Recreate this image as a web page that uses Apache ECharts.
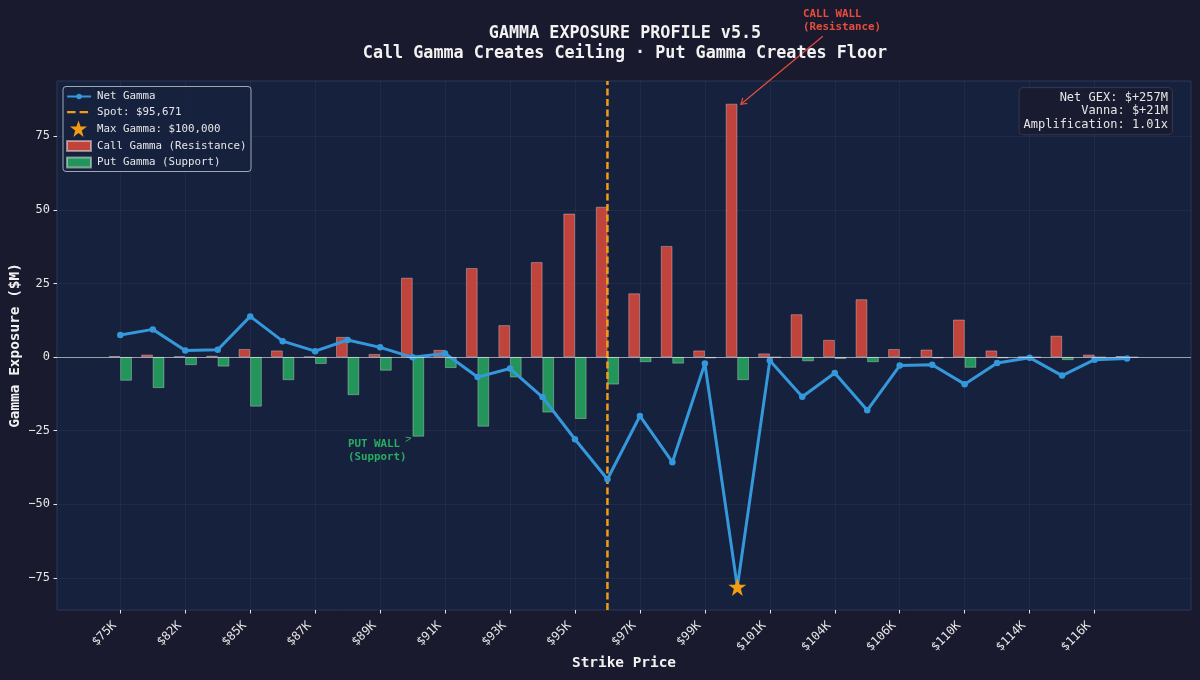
<!DOCTYPE html>
<html>
<head>
<meta charset="utf-8">
<title>Gamma Exposure Profile</title>
<script src="https://cdn.jsdelivr.net/npm/echarts@6/dist/echarts.min.js"></script>
<style>
  html, body { margin: 0; padding: 0; background: #1a1a2e; }
  #main { width: 1200px; height: 680px; }
</style>
</head>
<body>
<div id="main"></div>
<script>
// values, one entry per strike (index 0..31)
const callGamma = [0.3, 0.8, 0.2, 0.4, 2.7, 2.2, 0.1, 6.8, 1.0, 26.9, 2.4, 30.2, 10.8, 32.2, 48.7, 51.0,
                   21.6, 37.7, 2.2, 86.0, 1.2, 14.5, 5.8, 19.6, 2.7, 2.5, 12.7, 2.2, 0.1, 7.2, 0.8, 0.3];
const putGamma = [-8.0, -10.5, -2.7, -3.2, -16.8, -7.8, -2.3, -12.9, -4.6, -27.0, -3.7, -23.6, -6.9, -18.8, -21.0, -9.3,
                  -1.7, -2.2, -0.4, -7.8, -0.1, -1.4, -0.6, -1.7, -0.4, -0.4, -3.6, -0.4, -0.1, -1.0, -0.1, -0.1];
const netGamma = [7.5, 9.4, 2.2, 2.5, 13.8, 5.4, 2.0, 5.8, 3.3, -0.1, 1.2, -6.8, -3.9, -13.6, -27.9, -41.5,
                  -20.0, -35.7, -2.2, -78.1, -1.2, -13.5, -5.4, -18.1, -2.9, -2.6, -9.2, -2.0, -0.2, -6.3, -0.9, -0.5];
const strikeTicks = [0, 2, 4, 6, 8, 10, 12, 14, 16, 18, 20, 22, 24, 26, 28, 30];
const strikeLabels = ['$75K', '$82K', '$85K', '$87K', '$89K', '$91K', '$93K', '$95K',
                      '$97K', '$99K', '$101K', '$104K', '$106K', '$110K', '$114K', '$116K'];
const gammaTicks = [-75, -50, -25, 0, 25, 50, 75];
const spotIndex = 15;
const maxGammaIndex = 19;
const putWallIndex = 9;

const xMin = -1.95, xMax = 32.97;
const yMin = -85.9, yMax = 93.75;

const mono = '"DejaVu Sans Mono", monospace';
const textColor = '#e6e6e6';
const RED = '#e74c3c', GREEN = '#27ae60', BLUE = '#3498db', ORANGE = '#f39c12';
const STAR = 'path://M50 0L61.8 35.1L98.9 35.1L69 57L79.4 95L50 72L20.6 95L31 57L1.1 35.1L38.2 35.1Z';

const withIndex = arr => arr.map((v, i) => [i, v]);
const legendBase = {
    left: 66,
    orient: 'vertical',
    padding: 0,
    itemWidth: 24,
    itemHeight: 10,
    itemGap: 4.4,
    selectedMode: false,
    textStyle: { color: textColor, fontFamily: mono, fontSize: 10.8, padding: [0, 0, 0, 1] }
};

const option = {
    animation: false,
    backgroundColor: '#1a1a2e',
    textStyle: { fontFamily: mono },
    title: {
        text: 'GAMMA EXPOSURE PROFILE v5.5\nCall Gamma Creates Ceiling · Put Gamma Creates Floor',
        left: 620,
        top: 19,
        textAlign: 'center',
        textStyle: { color: '#f2f2f2', fontFamily: mono, fontWeight: 'bold', fontSize: 16.75, lineHeight: 20 }
    },
    grid: {
        left: 57, right: 9, top: 81, bottom: 70,
        outerBoundsMode: 'none',
        show: true,
        backgroundColor: '#16213e',
        borderColor: '#2c3756',
        borderWidth: 1
    },
    legend: [
        Object.assign({}, legendBase, {
            top: 91, itemHeight: 7, itemGap: 4.6,
            data: [
                'Net Gamma',
                { name: 'Spot: $95,671', itemStyle: { color: 'transparent' }, lineStyle: { type: [8.5, 4], width: 2.2 } }
            ]
        }),
        Object.assign({}, legendBase, {
            left: 70, itemWidth: 17, top: 120.5, itemHeight: 17,
            textStyle: { color: textColor, fontFamily: mono, fontSize: 10.8, padding: [0, 0, 0, 5] },
            data: [{ name: 'Max Gamma: $100,000', icon: STAR }]
        }),
        Object.assign({}, legendBase, {
            top: 140,
            data: [
                { name: 'Call Gamma (Resistance)', icon: 'rect' },
                { name: 'Put Gamma (Support)', icon: 'rect' }
            ]
        })
    ],
    xAxis: {
        type: 'value',
        min: xMin,
        max: xMax,
        name: 'Strike Price',
        nameLocation: 'middle',
        nameGap: 46,
        nameMoveOverlap: false,
        nameTextStyle: { color: '#f2f2f2', fontFamily: mono, fontWeight: 'bold', fontSize: 14.4 },
        axisLine: { show: false, onZero: false },
        axisTick: { show: true, length: 3.5, customValues: strikeTicks, lineStyle: { color: '#e6e6e6', width: 1 } },
        axisLabel: {
            customValues: strikeTicks,
            rotate: 45,
            margin: 8,
            padding: [0, 8, 0, 0],
            color: textColor,
            fontFamily: mono,
            fontSize: 12,
            formatter: v => strikeLabels[strikeTicks.indexOf(v)] || ''
        },
        splitLine: { show: true, lineStyle: { color: 'rgba(255,255,255,0.045)', width: 1 } }
    },
    yAxis: {
        type: 'value',
        min: yMin,
        max: yMax,
        name: 'Gamma Exposure ($M)',
        nameLocation: 'middle',
        nameGap: 35,
        nameMoveOverlap: false,
        nameTextStyle: { color: '#f2f2f2', fontFamily: mono, fontWeight: 'bold', fontSize: 14.4 },
        axisLine: { show: false, onZero: false },
        axisTick: { show: true, length: 3.5, customValues: gammaTicks, lineStyle: { color: '#e6e6e6', width: 1 } },
        axisLabel: {
            customValues: gammaTicks,
            margin: 7,
            color: textColor,
            fontFamily: mono,
            fontSize: 12,
            formatter: v => String(v).replace('-', '\u2212')
        },
        splitLine: { show: true, lineStyle: { color: 'rgba(255,255,255,0.045)', width: 1 } }
    },
    series: [
        {
            name: 'Call Gamma (Resistance)',
            type: 'bar',
            data: withIndex(callGamma),
            barWidth: 11.5,
            barGap: '0%',
            itemStyle: { color: 'rgba(231,76,60,0.82)', borderColor: 'rgba(255,255,255,0.45)', borderWidth: 0.7 },
            markLine: {
                silent: true,
                symbol: 'none',
                label: { show: false },
                lineStyle: { color: 'rgba(255,255,255,0.55)', width: 1, type: 'solid' },
                data: [{ yAxis: 0 }]
            }
        },
        {
            name: 'Put Gamma (Support)',
            type: 'bar',
            data: withIndex(putGamma),
            barWidth: 11.5,
            barGap: '0%',
            itemStyle: { color: 'rgba(39,174,96,0.82)', borderColor: 'rgba(255,255,255,0.45)', borderWidth: 0.7 }
        },
        {
            name: 'Spot: $95,671',
            type: 'line',
            data: [[spotIndex, yMin], [spotIndex, yMax]],
            showSymbol: false,
            symbol: 'none',
            lineStyle: { color: ORANGE, width: 2.5, type: [7, 3.5] },
            itemStyle: { color: ORANGE }
        },
        {
            name: 'Net Gamma',
            type: 'line',
            data: withIndex(netGamma),
            symbol: 'circle',
            symbolSize: 6.5,
            lineStyle: { color: BLUE, width: 3 },
            itemStyle: { color: BLUE }
        },
        {
            name: 'Max Gamma: $100,000',
            type: 'scatter',
            data: [[maxGammaIndex, netGamma[maxGammaIndex]]],
            symbol: STAR,
            symbolSize: 18,
            itemStyle: { color: ORANGE, opacity: 1 },
            z: 5
        }
    ]
};

const chart = echarts.init(document.getElementById('main'));
chart.setOption(option);

// annotations are anchored on the data through the chart's own scale
const callTip = chart.convertToPixel({ gridIndex: 0 }, [maxGammaIndex, callGamma[maxGammaIndex]]);
const putTip = chart.convertToPixel({ gridIndex: 0 }, [putWallIndex, putGamma[putWallIndex]]);
const callEnd = [callTip[0] + 3.5, callTip[1] + 0.5];

chart.setOption({
    graphic: [
        {
            type: 'rect', z: 3, silent: true,
            shape: { x: 63, y: 86.5, width: 188, height: 85, r: 3 },
            style: { fill: 'rgba(22,33,62,0.9)', stroke: 'rgba(255,255,255,0.6)', lineWidth: 1 }
        },
        {
            type: 'text', z: 6, silent: true, x: 1172, y: 88,
            style: {
                text: 'Net GEX: $+257M\nVanna: $+21M\nAmplification: 1.01x',
                align: 'right', verticalAlign: 'top',
                fill: textColor, font: '12px ' + mono, lineHeight: 13.4,
                backgroundColor: 'rgba(26,26,46,0.85)', padding: [3, 4, 3, 4], borderRadius: 4,
                borderColor: 'rgba(255,255,255,0.1)', borderWidth: 1
            }
        },
        {
            type: 'line', z: 6, silent: true,
            shape: { x1: callEnd[0] + 82, y1: callEnd[1] - 68, x2: callEnd[0], y2: callEnd[1] },
            style: { stroke: RED, lineWidth: 1.2 }
        },
        {
            type: 'polyline', z: 6, silent: true,
            shape: { points: [[callEnd[0] + 6.5, callEnd[1] - 1], callEnd, [callEnd[0] + 2, callEnd[1] - 6.5]] },
            style: { stroke: RED, lineWidth: 1.2, fill: null }
        },
        {
            type: 'text', z: 6, silent: true, x: 803, y: 8,
            style: { text: 'CALL WALL\n(Resistance)', fill: RED, font: 'bold 10.8px ' + mono, lineHeight: 12.6, verticalAlign: 'top' }
        },
        {
            type: 'polyline', z: 6, silent: true,
            shape: { points: [[putTip[0] - 7, putTip[1] + 0.5], [putTip[0] - 1.5, putTip[1] + 1.5], [putTip[0] - 7, putTip[1] + 5]] },
            style: { stroke: GREEN, lineWidth: 1, fill: null }
        },
        {
            type: 'text', z: 6, silent: true, x: 348, y: 438,
            style: { text: 'PUT WALL\n(Support)', fill: GREEN, font: 'bold 10.8px ' + mono, lineHeight: 12.6, verticalAlign: 'top' }
        }
    ]
});
</script>
</body>
</html>
